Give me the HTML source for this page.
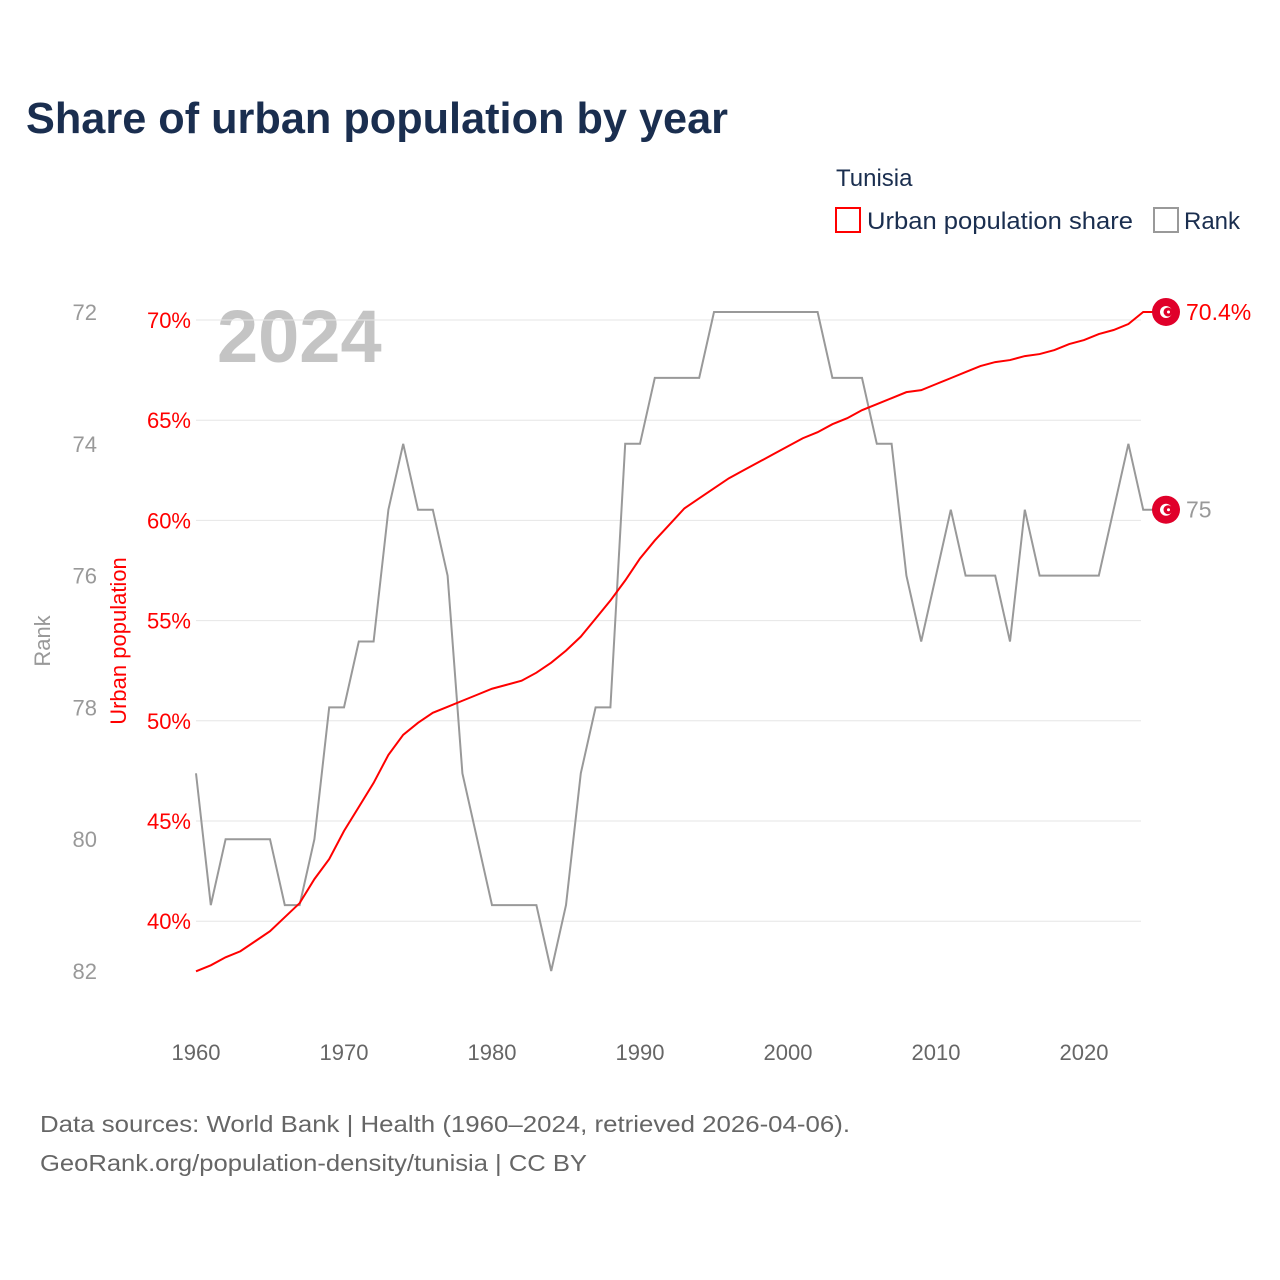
<!DOCTYPE html>
<html><head><meta charset="utf-8">
<style>
body{margin:0;background:#fff;font-family:"Liberation Sans",sans-serif;}
#wrap{position:relative;width:1280px;height:1280px;overflow:hidden;}
</style></head>
<body>
<div id="wrap">
<svg id="chart" width="1280" height="1280" xmlns="http://www.w3.org/2000/svg">
  <text x="26" y="133" font-size="44" font-weight="bold" fill="#1a2e4f" textLength="702" lengthAdjust="spacingAndGlyphs">Share of urban population by year</text>
  <text x="836" y="186" font-size="24" fill="#1a2e4f">Tunisia</text>
  <g>
    <rect x="836" y="208" width="24" height="24" fill="none" stroke="#ff0000" stroke-width="2"/>
    <text x="867" y="229" font-size="24" fill="#1a2e4f" textLength="266" lengthAdjust="spacingAndGlyphs">Urban population share</text>
  </g>
  <g>
    <rect x="1154" y="208" width="24" height="24" fill="none" stroke="#999" stroke-width="2"/>
    <text x="1184" y="229" font-size="24" fill="#1a2e4f">Rank</text>
  </g>
  <text x="217" y="362" font-size="74" font-weight="bold" fill="#c4c4c4">2024</text>
  <text transform="translate(50,641) rotate(-90)" text-anchor="middle" font-size="22" fill="#999">Rank</text>
  <text transform="translate(126,641) rotate(-90)" text-anchor="middle" font-size="22" fill="#ff0000">Urban population</text>
  <g id="grid"></g><g id="axes"></g><g id="series"></g>
  <text x="40" y="1132" font-size="23" fill="#666" textLength="810" lengthAdjust="spacingAndGlyphs">Data sources: World Bank | Health (1960–2024, retrieved 2026-04-06).</text>
  <text x="40" y="1171" font-size="23" fill="#666" textLength="547" lengthAdjust="spacingAndGlyphs">GeoRank.org/population-density/tunisia | CC BY</text>
</svg>
</div>
<script>
const years=[];for(let y=1960;y<=2024;y++)years.push(y);
const urban=[37.5,37.8,38.2,38.5,39.0,39.5,40.2,40.9,42.1,43.1,44.5,45.7,46.9,48.3,49.3,49.9,50.4,50.7,51.0,51.3,51.6,51.8,52.0,52.4,52.9,53.5,54.2,55.1,56.0,57.0,58.1,59.0,59.8,60.6,61.1,61.6,62.1,62.5,62.9,63.3,63.7,64.1,64.4,64.8,65.1,65.5,65.8,66.1,66.4,66.5,66.8,67.1,67.4,67.7,67.9,68.0,68.2,68.3,68.5,68.8,69.0,69.3,69.5,69.8,70.4];
const rank=[79,81,80,80,80,80,81,81,80,78,78,77,77,75,74,75,75,76,79,80,81,81,81,81,82,81,79,78,78,74,74,73,73,73,73,72,72,72,72,72,72,72,72,73,73,73,74,74,76,77,76,75,76,76,76,77,75,76,76,76,76,76,75,74,75];
const urbanTicks=[40,45,50,55,60,65,70];
const rankTicks=[72,74,76,78,80,82];
const xTicks=[1960,1970,1980,1990,2000,2010,2020];
const NS='http://www.w3.org/2000/svg';
const xS=y=>196+(y-1960)*14.8;
const uS=v=>320-(v-70)*20.04;
const rS=r=>312+(r-72)*65.9;
function mk(tag,attrs,parent,txt){const e=document.createElementNS(NS,tag);for(const k in attrs)e.setAttribute(k,attrs[k]);if(txt!==undefined)e.textContent=txt;parent.appendChild(e);return e;}
const grid=document.getElementById('grid'),axes=document.getElementById('axes'),series=document.getElementById('series');
urbanTicks.forEach(t=>{
  const l=mk('line',{x1:196,x2:1141,y1:uS(t),y2:uS(t),stroke:'#e6e6e6','stroke-width':1},grid);
  
  
  const tx=mk('text',{x:191,y:uS(t)+8,'text-anchor':'end','font-size':22,fill:'#ff0000'},axes,t+'%');
  
  
});
rankTicks.forEach(t=>{
  const tx=mk('text',{x:97,y:rS(t)+8,'text-anchor':'end','font-size':22,fill:'#999'},axes,t);
  
  
});
xTicks.forEach(t=>{
  const tx=mk('text',{x:xS(t),y:1060,'text-anchor':'middle','font-size':22,fill:'#666'},axes,t);
  
  
});
const rp=mk('polyline',{points:years.map((y,i)=>xS(y)+','+rS(rank[i])).join(' ')+' '+(xS(2024)+10)+','+rS(rank[rank.length-1]),fill:'none',stroke:'#999','stroke-width':2},series);


const up=mk('polyline',{points:years.map((y,i)=>xS(y)+','+uS(urban[i])).join(' ')+' '+(xS(2024)+10)+','+uS(urban[urban.length-1]),fill:'none',stroke:'#ff0000','stroke-width':2},series);


function flag(cy,name){
  const g=mk('g',{},series);
  
  
  mk('circle',{cx:1166,cy:cy,r:14,fill:'#e0002a'},g);
  mk('circle',{cx:1166,cy:cy,r:6,fill:'#fff'},g);
  mk('circle',{cx:1168,cy:cy,r:4.5,fill:'#e0002a'},g);
  mk('circle',{cx:1168.5,cy:cy,r:1.5,fill:'#fff'},g);
}
const uy=uS(urban[urban.length-1]),ry=rS(rank[rank.length-1]);
flag(uy,'urban-end-flag');flag(ry,'rank-end-flag');
const ul=mk('text',{x:1186,y:uy+8,'font-size':23,fill:'#ff0000'},series,urban[urban.length-1].toFixed(1)+'%');


const rl=mk('text',{x:1186,y:ry+8,'font-size':23,fill:'#999'},series,rank[rank.length-1]);


</script>
</body></html>
